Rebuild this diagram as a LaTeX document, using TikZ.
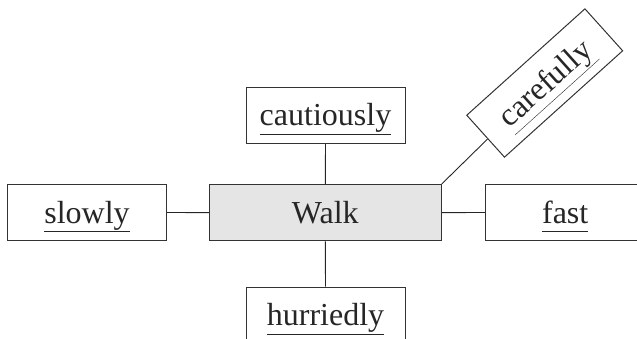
\documentclass[tikz,border=0pt]{standalone}
\usepackage{fontspec}
\setmainfont{Liberation Serif}
\newcommand{\myul}[1]{\underline{\vphantom{y}#1}}
\begin{document}
\begin{tikzpicture}[x=1pt,y=-1pt,
  wordbox/.style={draw=black!80, line width=1pt, inner sep=0pt,
    minimum width=159pt, minimum height=56.4pt,
    text height=22pt, text depth=1pt,
    font=\fontsize{32}{37}\selectfont, text=black!85},
  mainbox/.style={wordbox, fill=black!10, minimum width=232pt},
  link/.style={draw=black!85, line width=0.9pt}]
\useasboundingbox (0,0) rectangle (637,338);
\node[mainbox] (walk) at (325.3,212.6) {Walk};
\node[wordbox] (slow) at (87,212.5) {\myul{slowly}};
\node[wordbox] (fast) at (565.2,212.5) {\myul{fast}};
\node[wordbox] (caut) at (325.5,115.3) {\myul{cautiously}};
\node[wordbox] (hurr) at (325.5,315.2) {\myul{hurriedly}};
\node[wordbox, rotate=42] (care) at (544.7,83) {\myul{carefully}};
\draw[link] (slow.east) -- (walk.west);
\draw[link] (walk.east) -- (fast.west);
\draw[link] (walk.north) -- (caut.south);
\draw[link] (walk.south) -- (hurr.north);
\draw[link] (walk.north east) -- (care);
\end{tikzpicture}
\end{document}
